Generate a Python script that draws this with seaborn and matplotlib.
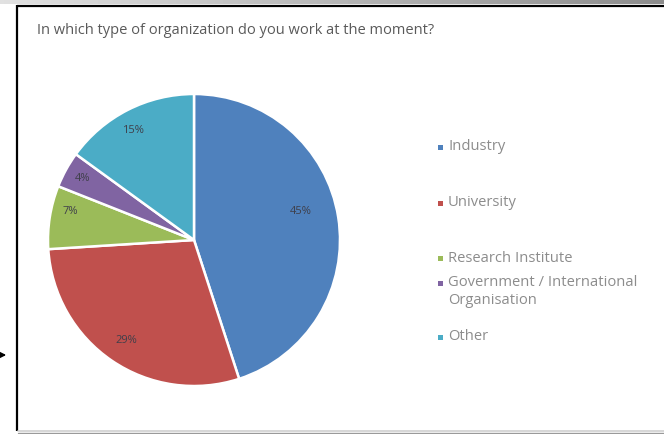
import numpy as np
import matplotlib
matplotlib.use("Agg")
import matplotlib.pyplot as plt
import seaborn as sns

# Survey answers: share of respondents per organization type (%)
categories = ["Industry", "University", "Research Institute",
              "Government / International\nOrganisation", "Other"]
shares = [45, 29, 7, 4, 15]
colors = ["#4F81BD", "#C0504D", "#9BBB59", "#8064A2", "#4BACC6"]
title = "In which type of organization do you work at the moment?"

sns.set_theme(style="white")
plt.rcParams["font.family"] = ["Open Sans", "DejaVu Sans"]

W, H = 664, 434
fig = plt.figure(figsize=(W / 100, H / 100), dpi=100)
fig.patch.set_facecolor("white")

# Slide frame: overlay axes in pixel coordinates
frame = fig.add_axes([0, 0, 1, 1], zorder=0)
frame.set_xlim(0, W)
frame.set_ylim(H, 0)
frame.axis("off")
grad = np.linspace(0.88, 0.55, 200)[None, :]
frame.imshow(grad, cmap="gray", vmin=0, vmax=1, extent=(0, W, 4.5, 0),
             aspect="auto", interpolation="bilinear")
frame.plot([17, W], [5.5, 5.5], color="black", lw=1.6, solid_capstyle="butt")
frame.plot([17, 17], [5, 431], color="black", lw=1.6, solid_capstyle="butt")
frame.plot([18, W], [430.5, 430.5], color="#d0d0d0", lw=1.2)
frame.plot([18, W], [432.5, 432.5], color="#9a9a9a", lw=1.0)
frame.annotate("", xy=(9, 355), xytext=(-10, 355),
               arrowprops=dict(arrowstyle="-|>", color="black", lw=1.2,
                               mutation_scale=14))

fig.text(37 / W, 1 - 30 / H, title, fontsize=10.5, color="#5a5a5a",
         ha="left", va="center")

# Pie: starts at 12 o'clock, runs clockwise
cx, cy, r = 194, 240, 146
ax = fig.add_axes([(cx - r) / W, (H - cy - r) / H, 2 * r / W, 2 * r / H], zorder=1)
wedges, texts, autotexts = ax.pie(
    shares, colors=colors, startangle=90, counterclock=False,
    autopct=lambda p: f"{p:.0f}%", pctdistance=0.82,
    wedgeprops=dict(edgecolor="white", linewidth=1.8),
    textprops=dict(fontsize=8, color="#3f3f4a"))
ax.set_xlim(-1, 1)
ax.set_ylim(-1, 1)
ax.set_aspect("equal")
for w in wedges:
    w.set_clip_on(False)

# Best-fit style label placement: radial distance and angular nudge per slice
label_dist = [0.76, 0.83, 0.87, 0.87, 0.86]
label_nudge = [6, 0, -4, 0, 2]
for w, t, d, dn in zip(wedges, autotexts, label_dist, label_nudge):
    ang = np.deg2rad((w.theta1 + w.theta2) / 2 + dn)
    t.set_position((d * np.cos(ang), d * np.sin(ang)))

# Legend entries
leg_y = [147, 203, 258, 283, 337]
for lab, col, y in zip(categories, colors, leg_y):
    frame.add_patch(plt.Rectangle((437.5, y - 2.5), 5, 5, color=col, lw=0))
    if "\n" in lab:
        frame.text(448, y - 8, lab, fontsize=10.6, color="#8c8c8c",
                   ha="left", va="top", linespacing=1.25)
    else:
        frame.text(448, y, lab, fontsize=10.6, color="#8c8c8c",
                   ha="left", va="center")

fig.savefig("out.png", dpi=100, facecolor="white")
